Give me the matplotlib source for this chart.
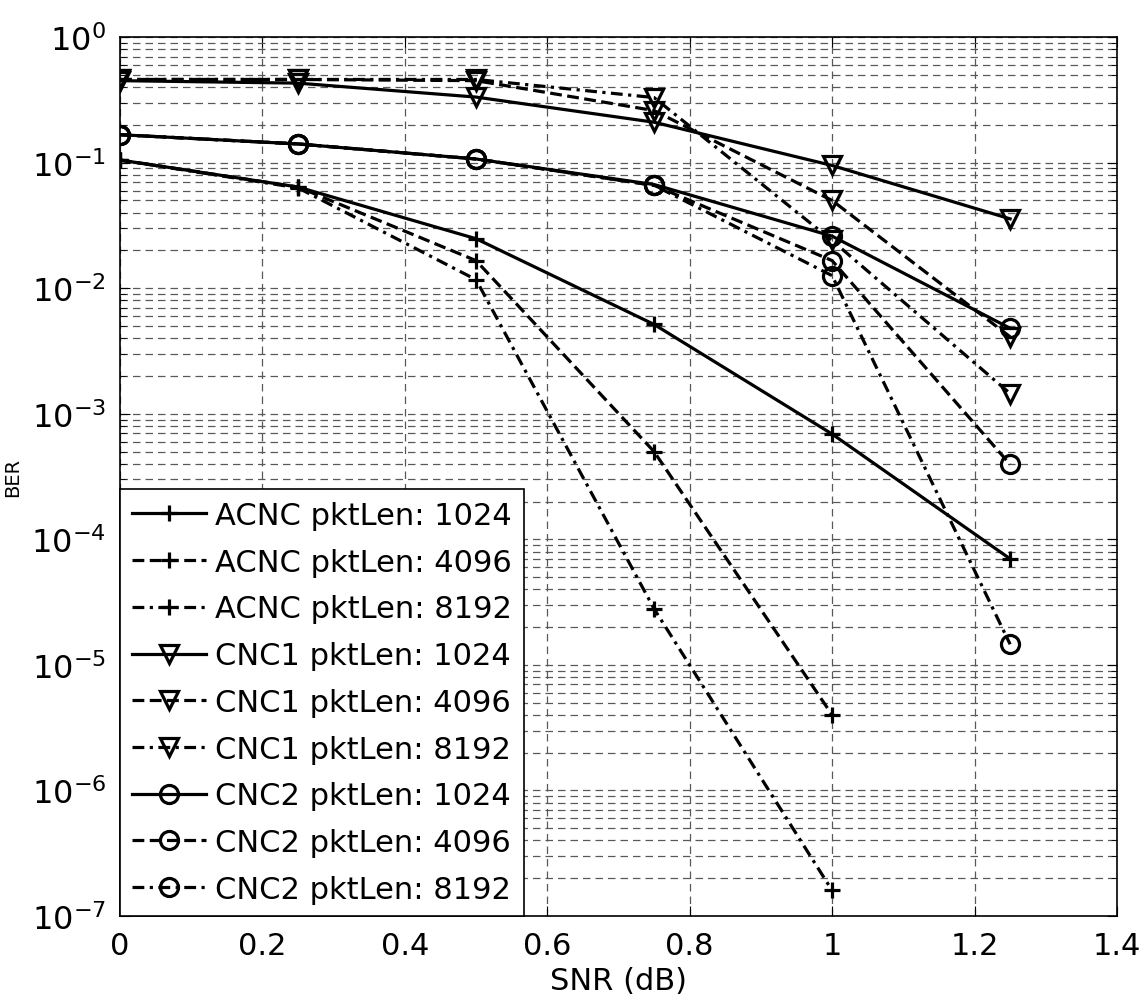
import matplotlib
matplotlib.use('Agg')
import matplotlib.pyplot as plt
import numpy as np

plt.rcParams['font.family'] = ['DejaVu Sans']

snr = [0, 0.25, 0.5, 0.75, 1.0, 1.25]

# ACNC
acnc_1024 = [0.105, 0.064, 0.0248, 0.00515, 6.9e-4, 7.0e-5]
acnc_4096 = [0.105, 0.064, 0.0166, 5.0e-4, 4.0e-6]
acnc_8192 = [0.105, 0.063, 0.0117, 2.8e-5, 1.6e-7]
# CNC1
cnc1_1024 = [0.45, 0.43, 0.333, 0.21, 0.095, 0.0357]
cnc1_4096 = [0.46, 0.46, 0.45, 0.26, 0.05, 0.0041]
cnc1_8192 = [0.46, 0.46, 0.46, 0.33, 0.024, 0.00145]
# CNC2
cnc2_1024 = [0.167, 0.141, 0.107, 0.067, 0.026, 0.0048]
cnc2_4096 = [0.167, 0.141, 0.107, 0.066, 0.0166, 3.95e-4]
cnc2_8192 = [0.167, 0.141, 0.107, 0.066, 0.0126, 1.46e-5]

dashed = (0, (3.7, 1.7))
dashdot = (0, (3.7, 1.7, 1, 1.7))

series = [
    ('ACNC pktLen: 1024', acnc_1024, '-', '+'),
    ('ACNC pktLen: 4096', acnc_4096, dashed, '+'),
    ('ACNC pktLen: 8192', acnc_8192, dashdot, '+'),
    ('CNC1 pktLen: 1024', cnc1_1024, '-', 'v'),
    ('CNC1 pktLen: 4096', cnc1_4096, dashed, 'v'),
    ('CNC1 pktLen: 8192', cnc1_8192, dashdot, 'v'),
    ('CNC2 pktLen: 1024', cnc2_1024, '-', 'o'),
    ('CNC2 pktLen: 4096', cnc2_4096, dashed, 'o'),
    ('CNC2 pktLen: 8192', cnc2_8192, dashdot, 'o'),
]

xticks = [0, 0.2, 0.4, 0.6, 0.8, 1.0, 1.2, 1.4]
xticklabels = ['0', '0.2', '0.4', '0.6', '0.8', '1', '1.2', '1.4']

fig = plt.figure(figsize=(11.47, 10.03), dpi=100)
ax = fig.add_axes([0.1046, 0.0857, 0.8692, 0.8763])

msize = {'+': 11, 'v': 13, 'o': 13}
for label, vals, ls, mk in series:
    ax.semilogy(snr[:len(vals)], vals, color='black', linestyle=ls, linewidth=2.3,
                marker=mk, markersize=msize[mk], markerfacecolor='none',
                markeredgecolor='black', markeredgewidth=2.3, label=label)

ax.set_xlim(0, 1.4)
ax.set_ylim(1e-7, 1)
ax.set_xticks(xticks)
ax.set_xticklabels(xticklabels)
ax.set_yticks([10.0 ** k for k in range(-7, 1)])

ax.grid(True, which='major', axis='both', color='0.35', linestyle=(0, (6, 4)), linewidth=0.9)
ax.grid(True, which='minor', axis='y', color='0.35', linestyle=(0, (6, 4)), linewidth=0.9)

ax.tick_params(which='both', direction='in', top=True, right=True)
ax.tick_params(axis='x', labelsize=22, pad=11)
ax.tick_params(axis='y', labelsize=23, pad=10)
ax.tick_params(which='major', length=7)
ax.tick_params(which='minor', length=4)
for s in ax.spines.values():
    s.set_linewidth(1.2)

ax.set_xlabel('SNR (dB)', fontsize=22, labelpad=4)
ax.set_ylabel('BER', fontsize=14)
ax.yaxis.set_label_coords(-0.098, 0.5)

leg = ax.legend(loc='lower left', fontsize=22, frameon=True, fancybox=False,
                borderaxespad=0, handlelength=2.4, handletextpad=0.3,
                labelspacing=0.58, borderpad=0.4)
leg.get_frame().set_edgecolor('black')
leg.get_frame().set_linewidth(1.2)
leg.get_frame().set_alpha(1)

plt.savefig('out.png', dpi=100)
